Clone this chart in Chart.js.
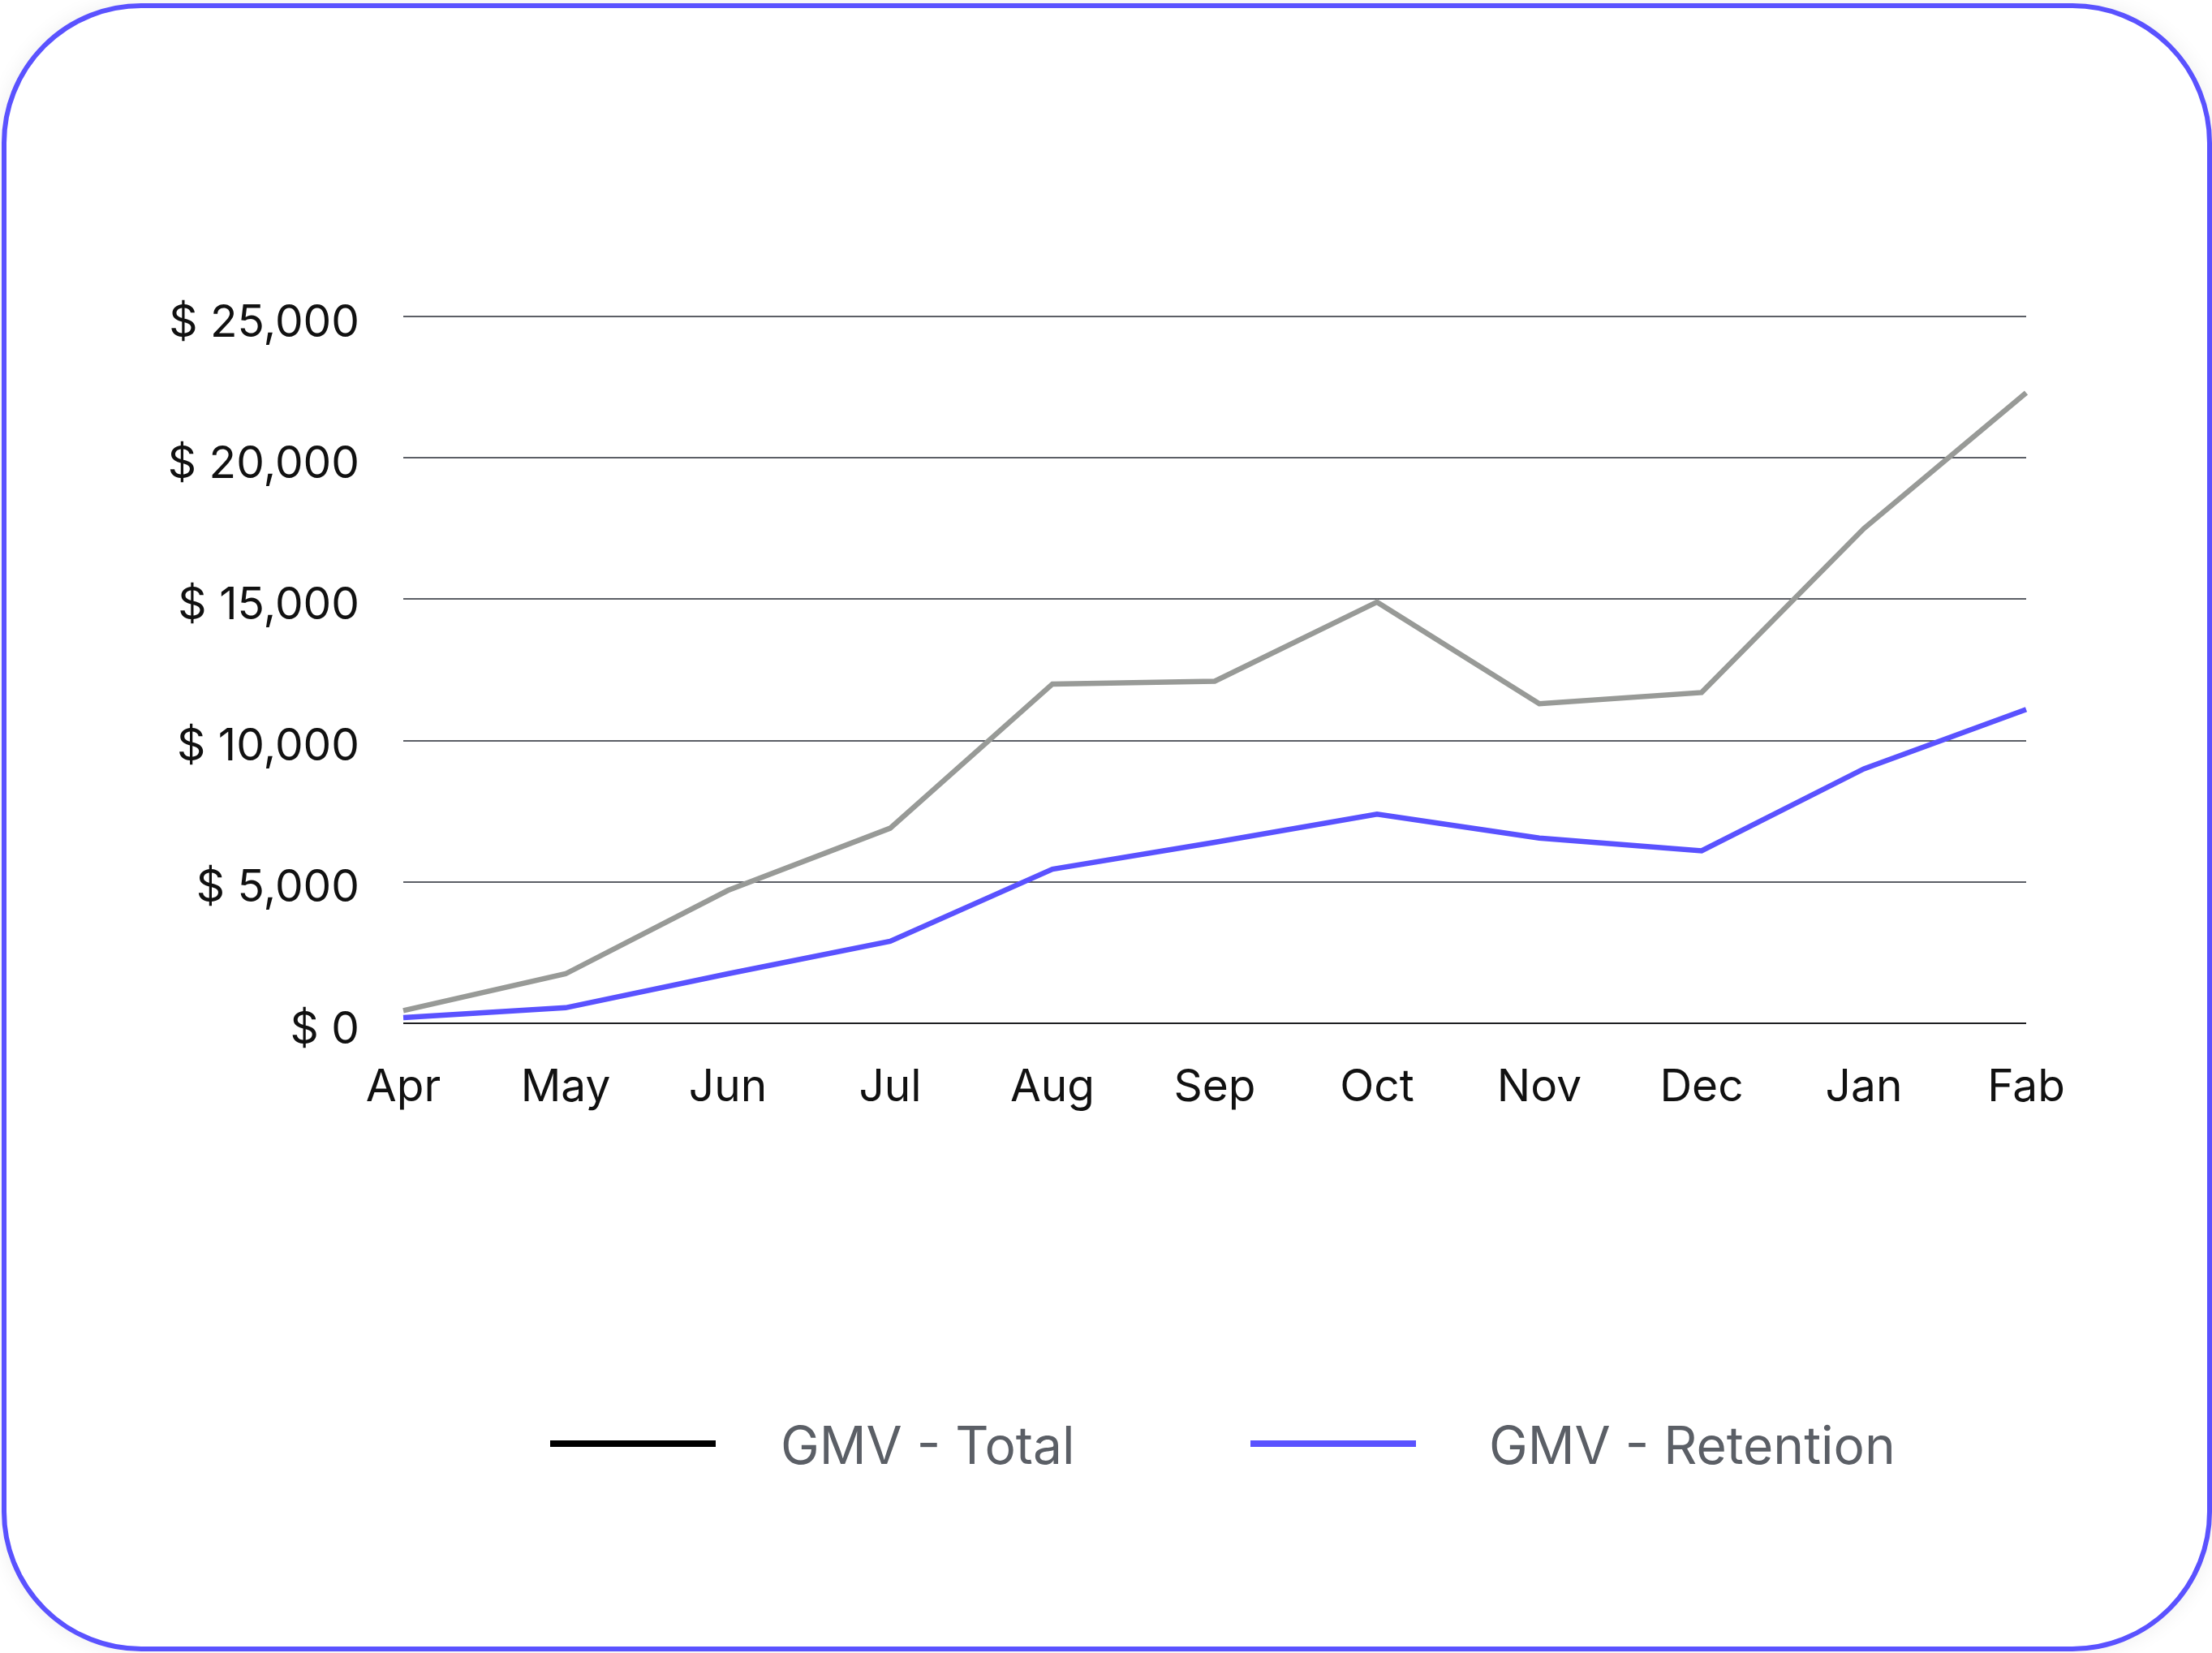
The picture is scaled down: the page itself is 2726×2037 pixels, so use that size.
<!DOCTYPE html>
<html>
<head>
<meta charset="utf-8">
<script src="https://cdn.jsdelivr.net/npm/chart.js@4.4.1/dist/chart.umd.min.js"></script>
<style>
html,body{margin:0;padding:0;background:#fff;width:2726px;height:2037px;overflow:hidden;font-family:Inter,"Noto Sans",sans-serif;}
#card{position:absolute;left:2px;top:4px;width:2724px;height:2031px;box-sizing:border-box;border:6px solid #5a52ff;border-radius:172px;background:#fff;box-shadow:0 0 26px rgba(0,0,0,0.07);}
#wrap{position:absolute;left:0;top:0;width:2726px;height:2037px;}
.legend-line{position:absolute;height:8px;width:204px;top:1775px;}
.legend-text{position:absolute;top:1741px;height:80px;line-height:80px;font-size:64px;color:#5b5f66;white-space:nowrap;}
</style>
</head>
<body>
<div id="card"></div>
<div id="wrap"><canvas id="c" width="2726" height="2037"></canvas></div>
<div class="legend-line" style="left:678px;background:#000;"></div>
<div class="legend-text" style="left:962px;">GMV - Total</div>
<div class="legend-line" style="left:1541px;background:#5a52ff;"></div>
<div class="legend-text" style="left:1835px;">GMV - Retention</div>
<script>
const months = ['Apr','May','Jun','Jul','Aug','Sep','Oct','Nov','Dec','Jan','Fab'];
const gmvTotal = [450, 1750, 4700, 6900, 12000, 12100, 14900, 11300, 11700, 17500, 22300];
const gmvRetention = [200, 550, 1750, 2900, 5450, 6400, 7400, 6550, 6100, 9000, 11100];
const seriesNames = ['GMV - Total', 'GMV - Retention'];
const yTicks = [0, 5000, 10000, 15000, 20000, 25000];

new Chart(document.getElementById('c'), {
  type: 'line',
  data: {
    labels: months,
    datasets: [
      {label: seriesNames[0], data: gmvTotal, borderColor: '#989a97', borderWidth: 6.5, pointRadius: 0, tension: 0, fill: false},
      {label: seriesNames[1], data: gmvRetention, borderColor: '#5a52ff', borderWidth: 6.5, pointRadius: 0, tension: 0, fill: false}
    ]
  },
  options: {
    responsive: false,
    animation: false,
    layout: {padding: {left: 0, top: 390, right: 229, bottom: 0}},
    plugins: {legend: {display: false}, tooltip: {enabled: false}},
    scales: {
      x: {
        offset: false,
        grid: {display: false, drawTicks: false},
        border: {display: false},
        ticks: {color: '#111', font: {family: 'Inter', size: 55}, padding: 46, maxRotation: 0, autoSkip: false},
        afterFit: s => { s.height = 2037 - 1261; }
      },
      y: {
        min: 0, max: 25000,
        afterBuildTicks: s => { s.ticks = yTicks.map(v => ({value: v})); },
        grid: {drawTicks: false, lineWidth: 2, color: c => c.tick && c.tick.value === 0 ? '#1e1f22' : '#5c5f66'},
        border: {display: false},
        ticks: {color: '#111', font: {family: 'Inter', size: 55}, padding: 54, labelOffset: 8,
          callback: v => '$ ' + Number(v).toLocaleString('en-US')},
        afterFit: s => { s.width = 497; }
      }
    }
  }
});
</script>
</body>
</html>
